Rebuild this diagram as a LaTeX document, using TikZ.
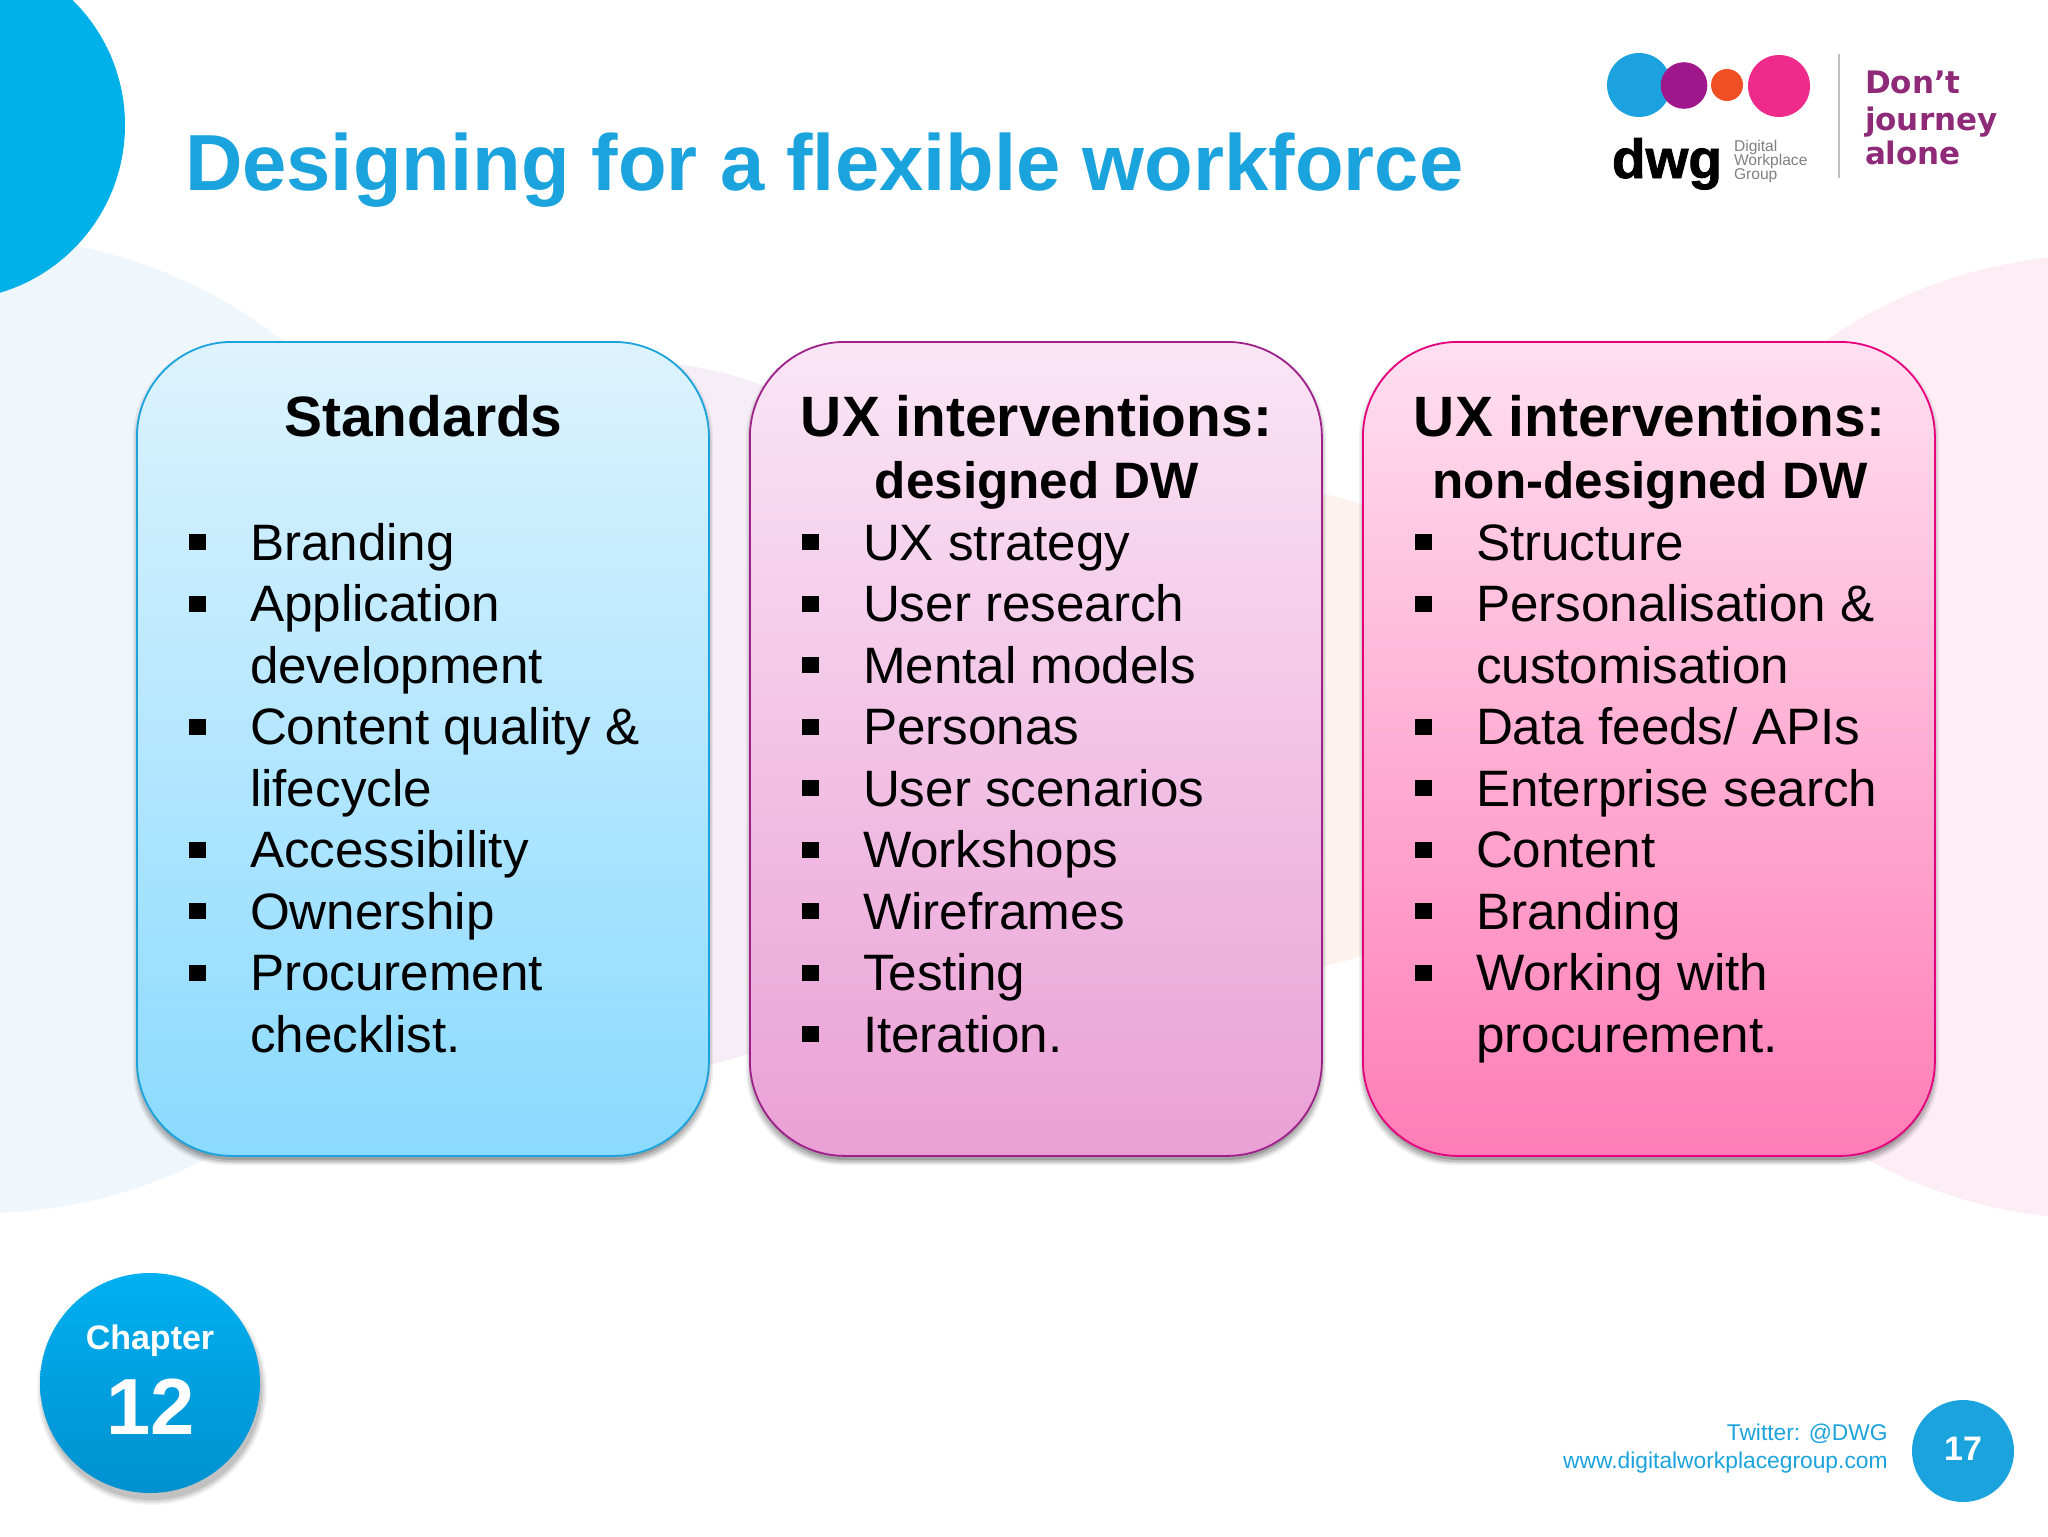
\documentclass[tikz,border=0pt]{standalone}
\usepackage{fontspec}
\setmainfont{Liberation Sans}
\newfontfamily\dvfont{DejaVu Sans}
\newfontfamily\dwgf[FakeBold=1.5]{Liberation Sans Bold}
\definecolor{titleblue}{HTML}{1BA3DD}
\definecolor{cornerblue}{HTML}{00B0E8}
\definecolor{blobblue}{HTML}{EFF7FD}
\definecolor{blobpurple}{HTML}{F6EEF6}
\definecolor{bloborange}{HTML}{FDF3EE}
\definecolor{blobpink}{HTML}{FDEDF5}
\definecolor{logopurple}{HTML}{8E2A78}
\definecolor{lgblue}{HTML}{1CA3DF}
\definecolor{lgpurple}{HTML}{A0178C}
\definecolor{lgorange}{HTML}{F04E23}
\definecolor{lgpink}{HTML}{EE2A8B}
\tikzset{
  x=0.5pt,y=-0.5pt,
  txt/.style={inner sep=0pt,outer sep=0pt,anchor=base west},
  bodytxt/.style={txt,font=\fontsize{25.6}{30}\selectfont,text=black},
  headA/.style={inner sep=0pt,anchor=base,font=\fontsize{28.45}{32}\selectfont\bfseries,text=black},
  headB/.style={inner sep=0pt,anchor=base,font=\fontsize{25.6}{30}\selectfont\bfseries,text=black},
  bul/.style={rectangle,fill=black,inner sep=0pt,minimum width=8.5pt,minimum height=8pt},
  card/.style={rectangle,anchor=north west,inner sep=0pt,minimum width=286pt,minimum height=407pt,rounded corners=47.5pt,line width=0.9pt,shading angle=0},
  foot/.style={inner sep=0pt,anchor=base east,font=\fontsize{11.4}{13}\selectfont,text=titleblue},
  smallgrey/.style={txt,font=\fontsize{7.8}{9}\selectfont,text=black!50},
  dont/.style={txt,font=\dvfont\fontsize{15.5}{18}\selectfont\bfseries,text=logopurple},
}
\newcommand{\itm}[4]{%
  \node[bul] (b#1) at ({#2+60.5},{542+61.5*#3}) {};
  \node[bodytxt] (t#1) at ({#2+113},{560+61.5*#3}) {#4};}
\newcommand{\cnt}[4]{%
  \node[bodytxt] (c#1) at ({#2+113},{560+61.5*#3}) {#4};}
\newcommand{\cardshadow}[1]{%
  \foreach \e/\o in {4/.06,2.5/.09,1/.12,-1/.16}{
    \fill[black,opacity=\o,rounded corners=47.5pt] ({#1-\e+1},{341+6-\e}) rectangle ({#1+572+\e+1},{1155+6+\e});
  }}
\begin{document}
\begin{tikzpicture}
\useasboundingbox (0,0) rectangle (2048,1536);
\clip (0,0) rectangle (2048,1536);
\fill[white] (0,0) rectangle (2048,1536);
% background discs
\fill[blobblue] (-18,725) circle[radius=488];
\fill[blobpurple] (636,717) circle[radius=355];
\fill[bloborange] (1280,730) circle[radius=240];
\fill[blobpink] (2100,737) circle[radius=482];
\fill[cornerblue] (-50,125) circle[radius=175];
% title
\node[txt,font=\fontsize{39.8}{44}\selectfont\bfseries,text=titleblue] (title) at (185,190) {Designing for a flexible workforce};
% logo
\fill[lgblue] (1639,85) circle[radius=32];
\fill[lgpurple] (1684,85.5) circle[radius=23.3];
\fill[lgorange] (1727,85) circle[radius=16];
\fill[lgpink] (1779,86) circle[radius=31];
\node[txt,font=\dwgf\fontsize{27.5}{30}\selectfont,text=black] (dwg) at (1612,178) {dwg};
\node[smallgrey] (lg1) at (1734,151) {Digital};
\node[smallgrey] (lg2) at (1734,165) {Workplace};
\node[smallgrey] (lg3) at (1734,179) {Group};
\draw[line width=0.7pt,color=black!25] (1839,54) -- (1839,178);
\node[dont] (d1) at (1865,94) {Don’t};
\node[dont] (d2) at (1865,130) {journey};
\node[dont] (d3) at (1865,164) {alone};
% cards
\cardshadow{136}
\cardshadow{749}
\cardshadow{1362}
\node[card,draw={rgb,255:red,27;green,163;blue,221},top color={rgb,255:red,221;green,243;blue,254},bottom color={rgb,255:red,138;green,218;blue,255}] (c1) at (136,341) {};
\node[card,draw={rgb,255:red,160;green,32;blue,138},top color={rgb,255:red,250;green,229;blue,245},bottom color={rgb,255:red,234;green,160;blue,214}] (c2) at (749,341) {};
\node[card,draw={rgb,255:red,230;green,0;blue,126},top color={rgb,255:red,255;green,224;blue,240},bottom color={rgb,255:red,255;green,125;blue,182}] (c3) at (1362,341) {};
% card 1
\node[headA] (h1) at (423.5,436) {Standards};
\itm{a}{137}{0}{Branding}
\itm{b}{137}{1}{Application}
\cnt{b}{137}{2}{development}
\itm{c}{137}{3}{Content quality \&}
\cnt{c}{137}{4}{lifecycle}
\itm{d}{137}{5}{Accessibility}
\itm{e}{137}{6}{Ownership}
\itm{f}{137}{7}{Procurement}
\cnt{f}{137}{8}{checklist.}
% card 2
\node[headA] (h2a) at (1036.5,436) {UX interventions:};
\node[headB] (h2b) at (1037,498) {designed DW};
\itm{g}{750}{0}{UX strategy}
\itm{h}{750}{1}{User research}
\itm{i}{750}{2}{Mental models}
\itm{j}{750}{3}{Personas}
\itm{k}{750}{4}{User scenarios}
\itm{l}{750}{5}{Workshops}
\itm{m}{750}{6}{Wireframes}
\itm{n}{750}{7}{Testing}
\itm{o}{750}{8}{Iteration.}
% card 3
\node[headA] (h3a) at (1649.5,436) {UX interventions:};
\node[headB] (h3b) at (1650,498) {non-designed DW};
\itm{p}{1363}{0}{Structure}
\itm{q}{1363}{1}{Personalisation \&}
\cnt{q}{1363}{2}{customisation}
\itm{r}{1363}{3}{Data feeds/ APIs}
\itm{s}{1363}{4}{Enterprise search}
\itm{t}{1363}{5}{Content}
\itm{u}{1363}{6}{Branding}
\itm{v}{1363}{7}{Working with}
\cnt{v}{1363}{8}{procurement.}
% chapter badge
\foreach \e/\o in {5/.04,3.5/.05,2/.07,0/.10}{
  \fill[black,opacity=\o] (152,1390) circle[radius={110+\e}];
}
\node[circle,inner sep=0pt,minimum size=110pt,top color={rgb,255:red,0;green,176;blue,240},bottom color={rgb,255:red,0;green,144;blue,208},shading angle=0] (chap) at (150,1383) {};
\node[inner sep=0pt,anchor=base,font=\fontsize{17}{20}\selectfont\bfseries,text=white] (chapt) at (150,1349) {Chapter};
\node[inner sep=0pt,anchor=base,font=\fontsize{39.8}{44}\selectfont\bfseries,text=white] (chapn) at (150.5,1434) {12};
% footer
\node[foot] (f1) at (1888,1440) {Twitter: @DWG};
\node[foot] (f2) at (1888,1468.5) {www.digitalworkplacegroup.com};
\node[circle,inner sep=0pt,minimum size=51pt,fill=titleblue] (pg) at (1963,1451) {};
\node[inner sep=0pt,anchor=base,font=\fontsize{17}{20}\selectfont\bfseries,text=white] (pgn) at (1963,1460) {17};
\end{tikzpicture}
\end{document}
